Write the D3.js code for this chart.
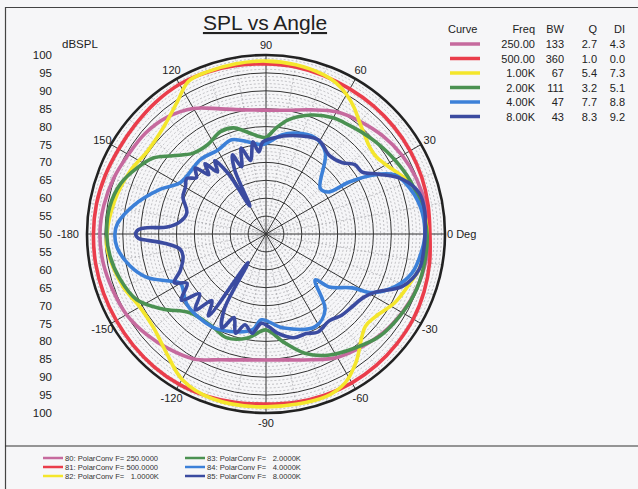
<!DOCTYPE html>
<html>
<head>
<meta charset="utf-8">
<script src="https://cdn.jsdelivr.net/npm/d3@7"></script>
<style>
  body { margin: 0; background: #f6f6f8; }
  svg { display: block; font-family: "Liberation Sans", Arial, sans-serif; }
</style>
</head>
<body>
<svg width="638" height="489"></svg>
<script>
// curve data: [angle in degrees, dBSPL]
const spl250 = [[0,95.5],[10,95.3],[20,94.8],[30,93.9],[40,92.6],[50,91.0],[60,89.4],[70,86.9],[80,85.1],[90,84.6],
  [100,85.2],[110,87.2],[120,90.5],[130,92.7],[140,93.9],[150,94.4],[160,95.3],[170,96.0],[180,96.4],[190,96.2],
  [200,95.6],[210,95.0],[220,93.6],[230,92.0],[240,90.3],[250,87.4],[260,85.7],[270,85.2],[280,85.7],[290,87.4],
  [300,89.8],[310,91.3],[320,92.8],[330,93.9],[340,94.8],[350,95.3]];
const spl500 = [[0,95.8],[10,96.0],[20,96.3],[30,96.5],[40,96.6],[50,96.7],[60,96.8],[70,97.1],[80,97.4],[90,97.5],
  [100,97.8],[110,98.1],[120,98.3],[130,98.0],[140,97.6],[150,97.5],[160,97.8],[170,98.1],[180,98.2],[190,98.3],
  [200,98.3],[210,98.3],[220,98.4],[230,98.5],[240,98.5],[250,98.2],[260,97.8],[270,97.5],[280,97.7],[290,97.9],
  [300,98.0],[310,97.9],[320,97.7],[330,97.5],[340,97.0],[350,96.4]];
const spl1k = [[0,95.0],[10,94.3],[20,92.5],[25,90.5],[30,88.7],[35,87.6],[40,87.8],[45,89.0],[50,90.7],[55,93.0],
  [60,95.0],[65,96.5],[70,97.3],[80,98.0],[90,98.3],[100,98.3],[110,98.2],[117,97.8],[124,94.4],[134,91.3],
  [145,90.4],[155,91.8],[165,93.0],[177,94.2],[185,94.6],[200,92.6],[210,90.7],[220,90.9],[230,93.3],[240,96.9],
  [252,98.4],[270,98.3],[290,98.4],[298,97.1],[305,93.8],[317,87.9],[323,88.3],[332,90.8],[342,92.7],[347,93.9],[355,94.6]];
const spl2k = [[0,95.0],[10,94.0],[20,93.0],[30,91.5],[40,90.0],[47,89.0],[55,88.0],[60,87.5],[69,85.6],[79,82.5],
  [85,79.5],[90,77.0],[95,77.5],[99,78.5],[107,81.0],[114,81.3],[123,79.8],[132,80.4],[140,84.0],[146,88.0],
  [153,90.5],[161,93.0],[170,94.3],[180,94.5],[188,94.0],[197,92.7],[207,90.5],[216,85.7],[226,80.6],[240,79.9],
  [249,81.0],[260,79.5],[270,76.8],[279,80.5],[288,85.0],[297,88.0],[308,90.4],[318,92.7],[328,93.8],[338,94.7],[348,95.0]];
const spl4k = [[0,94.4],[10,93.8],[20,91.5],[24.6,89.6],[29,83.9],[32,77.4],[34,71.0],[40,69.8],[54,78.2],[63,80.2],
  [74,79.3],[81,78.0],[92,75.0],[100,76.0],[110,78.0],[120,77.0],[131,77.7],[149,77.9],[157,82.0],[168,87.9],
  [176,91.6],[180,92.2],[185,91.8],[193,89.1],[200,85.4],[206,80.0],[210,77.6],[222,79.6],[240,80.0],[250,79.0],
  [262,77.0],[267,74.0],[280,76.6],[298,79.3],[308,76.8],[317,68.8],[320,73.0],[328,78.4],[331,83.8],[338,89.0],
  [345,92.2],[354,93.8]];
const spl8k = [[0,94.4],[8,94.8],[15,94.3],[22,91.0],[28,85.6],[33,81.9],[38,81.5],[43,79.2],[51,78.2],[61,80.1],
  [75,78.5],[85,77.0],[92,75.7],[95,73],[98,76],[102,71],[106,75],[110,70],[113,74],[116,70],[120,59],[122,70],
  [125,75],[128,72],[131,76],[134,73],[137,77],[141,75],[145,77],[150,76],[156,75.4],[165,72.9],[172,74.3],
  [176,77.7],[177,83.3],[178,85.6],[180,86.4],[182,85.6],[183,83.3],[185,78.8],[190,74.4],[195,74],[203,76],
  [208,79],[212,76],[218,80],[222,75],[227,79],[231,74],[235,78],[238,59.5],[241,74],[245,79],[249,75],[253,79],
  [257,76],[262,78],[267,75],[272,76],[277,78],[285,80],[292,80],[298,81],[306,80],[313,81],[320,81.5],[327,82.5],
  [332,84.6],[339,90.8],[347,93.9],[355,94.3]];

const curveNames = ["250.00", "500.00", "1.00K", "2.00K", "4.00K", "8.00K"];
const bwValues = ["133", "360", "67", "111", "47", "43"];
const qValues = ["2.7", "1.0", "5.4", "3.2", "7.7", "8.3"];
const diValues = ["4.3", "0.0", "7.3", "5.1", "8.8", "9.2"];
const bottomLabels = ["80: PolarConv F= 250.0000", "81: PolarConv F= 500.0000", "82: PolarConv F=   1.0000K",
  "83: PolarConv F=   2.0000K", "84: PolarConv F=   4.0000K", "85: PolarConv F=   8.0000K"];
const colors = ["#c66a9e", "#ea3d4b", "#f4e62c", "#4b9152", "#3c80d8", "#3b4ba0"];
const series = [spl250, spl500, spl1k, spl2k, spl4k, spl8k];
const dbTicks = [100, 95, 90, 85, 80, 75, 70, 65, 60, 55, 50];
const angleTicks = [0, 30, 60, 90, 120, 150, 180, 210, 240, 270, 300, 330];
const angleLabels = ["0 Deg", "30", "60", "90", "120", "150", "-180", "-150", "-120", "-90", "-60", "-30"];

const svg = d3.select("svg");
const cx = 266, cy = 234, R = 179;

const r = d3.scaleLinear().domain([50, 100]).range([0, R]);
const rad = d => d * Math.PI / 180;
const px = (a, v) => cx + r(v) * Math.cos(rad(a));
const py = (a, v) => cy - r(v) * Math.sin(rad(a));

// frame
svg.append("path")
  .attr("d", "M638,7.5H5.5V489")
  .attr("fill", "none").attr("stroke", "#444").attr("stroke-width", 1.2);
svg.append("line")
  .attr("x1", 5).attr("x2", 638).attr("y1", 446).attr("y2", 446)
  .attr("stroke", "#333").attr("stroke-width", 1.2);

// title
svg.append("text")
  .attr("x", 265).attr("y", 30)
  .attr("text-anchor", "middle")
  .attr("font-size", 21)
  .attr("fill", "#222")
  .attr("text-decoration", "underline")
  .text("SPL vs Angle");

const grid = svg.append("g");

// dashed minor rings (every 1 dB)
grid.selectAll(".minor")
  .data(d3.range(51, 100).filter(d => d % 5 !== 0))
  .enter().append("circle")
  .attr("cx", cx).attr("cy", cy)
  .attr("r", d => r(d))
  .attr("fill", "none")
  .attr("stroke", "#9a9aa0")
  .attr("stroke-width", 0.6)
  .attr("stroke-dasharray", "2,2");

// dashed minor spokes (every 10 deg)
grid.selectAll(".mspoke")
  .data(d3.range(0, 360, 10).filter(d => d % 30 !== 0))
  .enter().append("line")
  .attr("x1", cx).attr("y1", cy)
  .attr("x2", d => px(d, 100)).attr("y2", d => py(d, 100))
  .attr("stroke", "#9a9aa0")
  .attr("stroke-width", 0.6)
  .attr("stroke-dasharray", "2,2");

// major rings
grid.selectAll(".major")
  .data(d3.range(55, 100, 5))
  .enter().append("circle")
  .attr("cx", cx).attr("cy", cy)
  .attr("r", d => r(d))
  .attr("fill", "none")
  .attr("stroke", "#333")
  .attr("stroke-width", 1);

// major spokes
grid.selectAll(".spoke")
  .data(angleTicks)
  .enter().append("line")
  .attr("x1", cx).attr("y1", cy)
  .attr("x2", d => px(d, 100)).attr("y2", d => py(d, 100))
  .attr("stroke", "#333")
  .attr("stroke-width", 1);

// outer ring
grid.append("circle")
  .attr("cx", cx).attr("cy", cy).attr("r", R)
  .attr("fill", "none").attr("stroke", "#222").attr("stroke-width", 2.6);

// curves
const line = d3.line()
  .x(d => px(d[0], d[1]))
  .y(d => py(d[0], d[1]))
  .curve(d3.curveCatmullRomClosed.alpha(0.5));

svg.append("g").selectAll("path")
  .data(series)
  .enter().append("path")
  .attr("d", line)
  .attr("fill", "none")
  .attr("stroke", (d, i) => colors[i])
  .attr("stroke-width", 3.6)
  .attr("stroke-linejoin", "round");

// angle labels
const lr = R + 10;
svg.append("g").selectAll("text")
  .data(angleTicks)
  .enter().append("text")
  .attr("x", d => d === 0 ? cx + R + 2 : d === 180 ? cx - R - 8 : cx + lr * Math.cos(rad(d)))
  .attr("y", d => cy - lr * Math.sin(rad(d)) + 4)
  .attr("text-anchor", d => d === 0 ? "start" : d === 180 ? "end" : "middle")
  .attr("font-size", 11)
  .attr("fill", "#222")
  .text((d, i) => angleLabels[i]);

// radial dB labels on the left
const dbAxis = svg.append("g").attr("font-size", 11.5).attr("fill", "#222");
dbAxis.append("text").attr("x", 62).attr("y", 48).text("dBSPL");
dbTicks.forEach(v => {
  dbAxis.append("text").attr("x", 52).attr("y", cy - r(v) + 4).attr("text-anchor", "end").text(v);
  if (v !== 50) dbAxis.append("text").attr("x", 52).attr("y", cy + r(v) + 4).attr("text-anchor", "end").text(v);
});

// legend table
const leg = svg.append("g").attr("font-size", 11).attr("fill", "#222");
const cols = [535, 564, 597, 625];
leg.append("text").attr("x", 448).attr("y", 33).text("Curve");
["Freq", "BW", "Q", "DI"].forEach((h, j) => {
  leg.append("text").attr("x", cols[j]).attr("y", 33).attr("text-anchor", "end").text(h);
});
curveNames.forEach((name, i) => {
  const y = 44 + i * 14.5;
  leg.append("line").attr("x1", 450).attr("x2", 480).attr("y1", y).attr("y2", y)
    .attr("stroke", colors[i]).attr("stroke-width", 3.5);
  [name, bwValues[i], qValues[i], diValues[i]].forEach((t, j) => {
    leg.append("text").attr("x", cols[j]).attr("y", y + 4).attr("text-anchor", "end").text(t);
  });
});

// bottom legend
const bleg = svg.append("g").attr("font-size", 7.6).attr("fill", "#333");
bottomLabels.forEach((t, i) => {
  const x = i < 3 ? 43 : 185;
  const y = 458 + (i % 3) * 9;
  bleg.append("line").attr("x1", x).attr("x2", x + 20).attr("y1", y).attr("y2", y)
    .attr("stroke", colors[i]).attr("stroke-width", 2.5);
  bleg.append("text").attr("x", x + 22).attr("y", y + 2.6).attr("xml:space", "preserve").text(t);
});
</script>
</body>
</html>
